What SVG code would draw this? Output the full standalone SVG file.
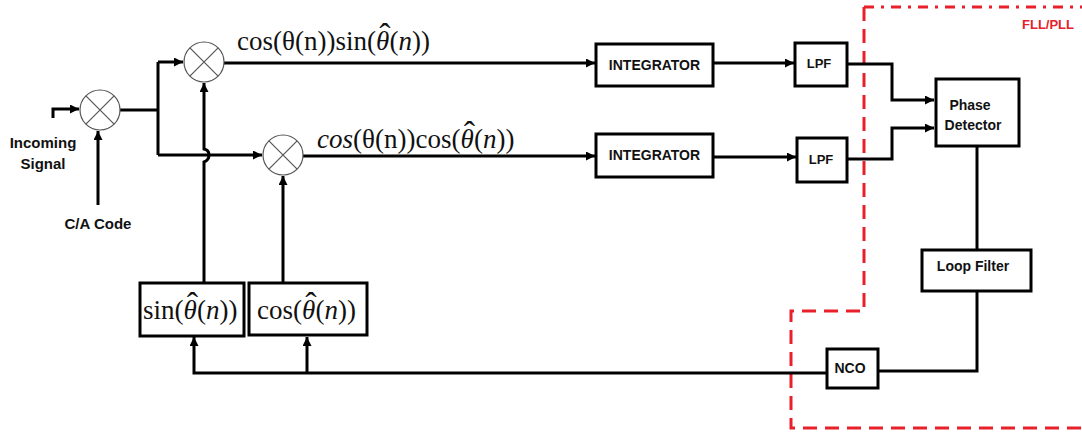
<svg xmlns="http://www.w3.org/2000/svg" width="1082" height="434" viewBox="0 0 1082 434">
  <style>
    .wire { fill: none; stroke: #000; stroke-width: 3; }
    .box { fill: #fff; stroke: #000; stroke-width: 3; }
    .mix { fill: #fff; stroke: #555; stroke-width: 1.2; }
    .lbl { font-family: "Liberation Sans", Arial, sans-serif; font-weight: bold; font-size: 14px; fill: #111; text-anchor: middle; }
    .big { font-size: 15px; }
    .math { font-family: "Liberation Serif", "DejaVu Serif", serif; font-size: 27px; fill: #111; }
    .it { font-style: italic; }
    .hat { font-size: 34px; }
    .region { fill: none; stroke: #e8202a; stroke-width: 3; }
  </style>
  <defs>
    <marker id="arr" viewBox="0 0 10 10" refX="10" refY="5" markerWidth="3" markerHeight="3" orient="auto" markerUnits="strokeWidth">
      <path d="M0,0 L10,5 L0,10 z" fill="#000"/>
    </marker>
    <g id="mixer">
      <circle class="mix" r="20"/>
      <path class="mix" d="M-14.1,-14.1 L14.1,14.1 M14.1,-14.1 L-14.1,14.1"/>
    </g>
  </defs>

  <rect width="1082" height="434" fill="#fff"/>

  <!-- FLL/PLL boundary -->
  <g id="loop-region">
    <path class="region" d="M864,7 H1082" stroke-dasharray="10,7,3,7"/>
    <path class="region" d="M864,7 V311 H791 V428 H1082" stroke-dasharray="14,8"/>
    <text x="1048" y="29" class="lbl" style="fill:#e8202a;font-size:13px">FLL/PLL</text>
  </g>

  <!-- connectors -->
  <g id="connectors">
    <path class="wire" d="M53,118 V109 H79" marker-end="url(#arr)"/>
    <path class="wire" d="M98,205 V131" marker-end="url(#arr)"/>
    <path class="wire" d="M120,110 H158"/>
    <path class="wire" d="M158,62 V155"/>
    <path class="wire" d="M158,62 H183" marker-end="url(#arr)"/>
    <path class="wire" d="M158,155 H262" marker-end="url(#arr)"/>
    <path class="wire" d="M224,63 H595" marker-end="url(#arr)"/>
    <path class="wire" d="M303,156 H595" marker-end="url(#arr)"/>
    <path class="wire" d="M713,63 H794" marker-end="url(#arr)"/>
    <path class="wire" d="M713,157 H796" marker-end="url(#arr)"/>
    <path class="wire" d="M847,64 H892 V100 H934" marker-end="url(#arr)"/>
    <path class="wire" d="M847,159 H892 V128 H934" marker-end="url(#arr)"/>
    <path class="wire" d="M977,146 V250"/>
    <path class="wire" d="M977,291 V371 H878"/>
    <path class="wire" d="M827,373 H194 V337" marker-end="url(#arr)"/>
    <path class="wire" d="M307,373 V337" marker-end="url(#arr)"/>
    <path class="wire" d="M204,283 V162 Q209,160 209,155 Q209,150 204,149 V83" marker-end="url(#arr)"/>
    <path class="wire" d="M283,283 V176" marker-end="url(#arr)"/>
  </g>

  <!-- mixers -->
  <g id="mixer-in"><use href="#mixer" x="100" y="110"/></g>
  <g id="mixer-i"><use href="#mixer" x="204" y="62"/></g>
  <g id="mixer-q"><use href="#mixer" x="283" y="155"/></g>

  <!-- input labels -->
  <g id="incoming-signal">
    <text x="43" y="148" class="lbl big">Incoming</text>
    <text x="43" y="169" class="lbl big">Signal</text>
  </g>
  <g id="ca-code">
    <text x="98" y="229" class="lbl big">C/A Code</text>
  </g>

  <!-- branch products (hat drawn as an accent tspan over the estimate) -->
  <g id="i-product">
    <text x="237" y="50" class="math">cos(θ(n))sin(<tspan class="it">θ</tspan><tspan class="hat" dx="-10" dy="-3">ˆ</tspan><tspan dx="-1" dy="3">(</tspan><tspan class="it">n</tspan>))</text>
  </g>
  <g id="q-product">
    <text x="317" y="148" class="math"><tspan class="it">cos</tspan>(θ(n))cos(<tspan class="it">θ</tspan><tspan class="hat" dx="-10" dy="-3">ˆ</tspan><tspan dx="-1" dy="3">(</tspan><tspan class="it">n</tspan>))</text>
  </g>

  <!-- integrate-and-dump -->
  <g id="integrator-i">
    <rect class="box" x="596" y="44" width="117" height="42"/>
    <text x="654.5" y="70" class="lbl">INTEGRATOR</text>
  </g>
  <g id="integrator-q">
    <rect class="box" x="596" y="134" width="117" height="43"/>
    <text x="654.5" y="160" class="lbl">INTEGRATOR</text>
  </g>

  <!-- low-pass filters -->
  <g id="lpf-i">
    <rect class="box" x="795" y="43" width="52" height="43"/>
    <text x="819" y="68" class="lbl" style="font-size:13px">LPF</text>
  </g>
  <g id="lpf-q">
    <rect class="box" x="797" y="138" width="50" height="44"/>
    <text x="821" y="164" class="lbl" style="font-size:13px">LPF</text>
  </g>

  <!-- tracking loop -->
  <g id="phase-detector">
    <rect class="box" x="936" y="79" width="83" height="67"/>
    <text x="970" y="110" class="lbl">Phase</text>
    <text x="973" y="130" class="lbl">Detector</text>
  </g>
  <g id="loop-filter">
    <rect class="box" x="922" y="250" width="109" height="41"/>
    <text x="973" y="271" class="lbl">Loop Filter</text>
  </g>
  <g id="nco">
    <rect class="box" x="827" y="349" width="51" height="39"/>
    <text x="850" y="373" class="lbl">NCO</text>
  </g>

  <!-- local carrier replicas -->
  <g id="sin-replica">
    <rect class="box" x="140" y="283" width="104" height="53"/>
    <text x="143" y="319" class="math">sin(<tspan class="it">θ</tspan><tspan class="hat" dx="-10" dy="-3">ˆ</tspan><tspan dx="-1" dy="3">(</tspan><tspan class="it">n</tspan>))</text>
  </g>
  <g id="cos-replica">
    <rect class="box" x="249" y="283" width="118" height="52"/>
    <text x="257" y="319" class="math">cos(<tspan class="it">θ</tspan><tspan class="hat" dx="-10" dy="-3">ˆ</tspan><tspan dx="-1" dy="3">(</tspan><tspan class="it">n</tspan>))</text>
  </g>
</svg>
